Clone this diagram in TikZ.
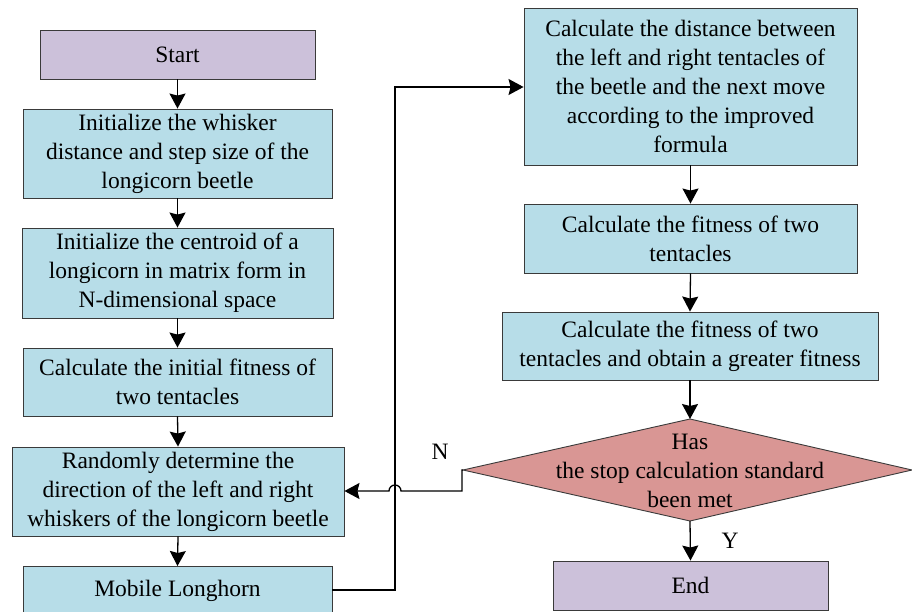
\documentclass[tikz,border=0pt]{standalone}
\usepackage{fontspec}
\setmainfont{Liberation Serif}
\newfontfamily\tnr{Liberation Serif}
\usetikzlibrary{arrows.meta}
\definecolor{boxblue}{HTML}{B7DDE8}
\definecolor{boxpurple}{HTML}{CCC1DA}
\definecolor{boxred}{HTML}{D99694}
\definecolor{edge}{HTML}{3A3A3A}
\begin{document}
\begin{tikzpicture}[x=1pt,y=-1pt,
  every node/.style={font=\tnr\fontsize{23.5}{29}\selectfont, align=center, inner sep=0pt},
  bluebox/.style={draw=edge, line width=0.9pt, fill=boxblue, rectangle},
  purplebox/.style={draw=edge, line width=0.9pt, fill=boxpurple, rectangle},
  conn/.style={line width=1.3pt, -{Stealth[length=15pt,width=16pt,inset=2pt]}},
  lbl/.style={font=\tnr\fontsize{23.5}{26}\selectfont}]
\useasboundingbox (0,0) rectangle (912,612);
% left column
\node[purplebox, minimum width=275pt, minimum height=49pt] (start) at (177.5,54.5) {Start};
\node[bluebox, minimum width=309pt, minimum height=89pt] (init1) at (177.5,153.5) {Initialize the whisker\\distance and step size of the\\longicorn beetle};
\node[bluebox, minimum width=311pt, minimum height=90pt] (init2) at (177.5,273) {Initialize the centroid of a\\longicorn in matrix form in\\N-dimensional space};
\node[bluebox, minimum width=309pt, minimum height=68pt] (calc0) at (177.5,382) {Calculate the initial fitness of\\two tentacles};
\node[bluebox, minimum width=332pt, minimum height=89pt] (rand) at (178,491.5) {Randomly determine the\\direction of the left and right\\whiskers of the longicorn beetle};
\node[bluebox, minimum width=309pt, minimum height=50pt, anchor=north] (mob) at (177.5,566) {};
\node (mobt) at (177.5,591) {Mobile Longhorn};
% right column
\node[bluebox, minimum width=333pt, minimum height=157pt] (dist) at (690.5,86.5) {Calculate the distance between\\the left and right tentacles of\\the beetle and the next move\\according to the improved\\formula};
\node[bluebox, minimum width=333pt, minimum height=69pt] (fit) at (690.5,238.5) {Calculate the fitness of two\\tentacles};
\node[bluebox, minimum width=376pt, minimum height=68pt] (great) at (690,346) {Calculate the fitness of two\\tentacles and obtain a greater fitness};
% decision diamond
\coordinate (dtop) at (690,419);
\coordinate (dright) at (912,470);
\coordinate (dbot) at (690,521);
\coordinate (dleft) at (463,470);
\draw[draw=edge, line width=0.9pt, fill=boxred] (dtop) -- (dright) -- (dbot) -- (dleft) -- cycle;
\node (dec) at (690,471) {Has\\the stop calculation standard\\been met};
\node[purplebox, minimum width=275pt, minimum height=49pt] (end) at (690.5,585.5) {End};
% connectors
\draw[conn] (start.south) -- (init1.north);
\draw[conn] (init1.south) -- (init2.north);
\draw[conn] (init2.south) -- (calc0.north);
\draw[conn] (calc0.south) -- (rand.north);
\draw[conn] (rand.south) -- (mob.north);
\coordinate (mobr) at (mob.east |- 0,590);
\coordinate (up1) at (395,590);
\coordinate (up2) at (395,87);
\draw[conn] (mobr) -- (up1) -- (up2) -- (dist.west |- up2);
\draw[conn] (dist.south) -- (fit.north);
\draw[conn] (fit.south) -- (great.north);
\draw[conn] (great.south) -- (dtop);
\draw[conn] (dbot) -- (end.north);
\coordinate (n1) at (462,470);
\coordinate (n2) at (462,491);
\coordinate (hop) at (401,491);
\draw[conn] (dleft) -- (n1) -- (n2) -- (hop) arc[start angle=0, end angle=180, radius=6pt] -- (rand.east |- n2);
\node[lbl] (nlab) at (440,452) {N};
\node[lbl] (ylab) at (730,541) {Y};
\end{tikzpicture}
\end{document}
